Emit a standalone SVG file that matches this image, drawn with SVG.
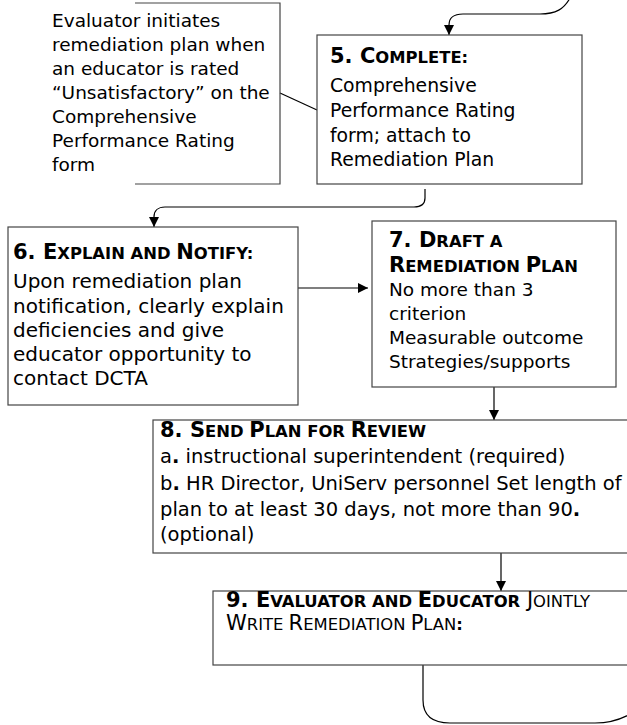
<svg xmlns="http://www.w3.org/2000/svg" width="627" height="725" viewBox="0 0 627 725">
<style>
.box{fill:#fff;stroke:#444;stroke-width:1.2}
.t{font-family:"DejaVu Sans",Verdana,sans-serif;font-size:18.5px;fill:#000}
.b{font-family:"DejaVu Sans",Verdana,sans-serif;font-weight:bold;font-size:21px;fill:#000}
.r{font-family:"DejaVu Sans",Verdana,sans-serif;font-size:21px;fill:#000}
.sc{font-size:16.4px}
.c{fill:none;stroke:#000;stroke-width:1.2}
</style>
<defs>
<marker id="ah" viewBox="0 0 10 10" refX="10" refY="5" markerWidth="10" markerHeight="10" markerUnits="userSpaceOnUse" orient="auto">
<path d="M0,0 L10,5 L0,10 z" fill="#000"/>
</marker>
</defs>
<g id="connectors">
<path class="c" d="M570,-2 C564,9 556,14 540,14 H463 C453,14 449,18 449,25 V35" marker-end="url(#ah)"/>
<path class="c" d="M280,93 L317,110"/>
<path class="c" d="M425,189 V198 C425,204 421,207 414,207 H165 C158,207 154,211 154,217 V227" marker-end="url(#ah)"/>
<path class="c" d="M298,288 H368" marker-end="url(#ah)"/>
<path class="c" d="M494,387 V420" marker-end="url(#ah)"/>
<path class="c" d="M501,553 V591" marker-end="url(#ah)"/>
<path class="c" d="M423,665 V700 C423,716 432,723 450,723 H595 C612,723 622,719 632,713"/>
</g>
<g id="note">
<path class="c" style="stroke:#444" d="M135,3 H280 V184 H135"/>
<text class="t" x="52" y="27">Evaluator initiates</text>
<text class="t" x="52" y="51">remediation plan when</text>
<text class="t" x="52" y="75">an educator is rated</text>
<text class="t" x="52" y="99">“Unsatisfactory” on the</text>
<text class="t" x="52" y="123">Comprehensive</text>
<text class="t" x="52" y="147">Performance Rating</text>
<text class="t" x="52" y="171">form</text>
</g>
<g id="step5">
<rect class="box" x="317" y="35" width="265" height="149"/>
<text class="b" x="330" y="63">5. C<tspan class="sc">OMPLETE:</tspan></text>
<text class="t" x="330" y="92" style="font-size:18.8px">Comprehensive</text>
<text class="t" x="330" y="117" style="font-size:18.8px">Performance Rating</text>
<text class="t" x="330" y="142" style="font-size:18.8px">form; attach to</text>
<text class="t" x="330" y="166" style="font-size:18.8px">Remediation Plan</text>
</g>
<g id="step6">
<rect class="box" x="8" y="227" width="290" height="178"/>
<text class="b" x="13" y="259">6. E<tspan class="sc">XPLAIN AND </tspan>N<tspan class="sc">OTIFY:</tspan></text>
<text class="t" x="13" y="288" style="font-size:20px">Upon remediation plan</text>
<text class="t" x="13" y="313" style="font-size:20px">notification, clearly explain</text>
<text class="t" x="13" y="337" style="font-size:20px">deficiencies and give</text>
<text class="t" x="13" y="361" style="font-size:20px">educator opportunity to</text>
<text class="t" x="13" y="385" style="font-size:20px">contact DCTA</text>
</g>
<g id="step7">
<rect class="box" x="372" y="221" width="244" height="166"/>
<text class="b" x="389" y="247">7. D<tspan class="sc">RAFT A</tspan></text>
<text class="b" x="389" y="272">R<tspan class="sc">EMEDIATION </tspan>P<tspan class="sc">LAN</tspan></text>
<text class="t" x="389" y="296">No more than 3</text>
<text class="t" x="389" y="320">criterion</text>
<text class="t" x="389" y="344">Measurable outcome</text>
<text class="t" x="389" y="368">Strategies/supports</text>
</g>
<g id="step8">
<rect class="box" x="153" y="420" width="490" height="133"/>
<text class="b" x="160" y="437">8. S<tspan class="sc">END </tspan>P<tspan class="sc">LAN FOR </tspan>R<tspan class="sc">EVIEW</tspan></text>
<text class="t" x="160" y="463" style="font-size:19.5px">a<tspan font-weight="bold">.</tspan> instructional superintendent (required)</text>
<text class="t" x="160" y="490" style="font-size:19.5px">b<tspan font-weight="bold">.</tspan> HR Director, UniServ personnel Set length of</text>
<text class="t" x="160" y="516" style="font-size:19.5px">plan to at least 30 days, not more than 90<tspan font-weight="bold">.</tspan></text>
<text class="t" x="160" y="541" style="font-size:19.5px">(optional)</text>
</g>
<g id="step9">
<rect class="box" x="213" y="591" width="430" height="74"/>
<text class="b" x="226" y="607">9. E<tspan class="sc">VALUATOR AND </tspan>E<tspan class="sc">DUCATOR</tspan><tspan font-weight="normal"> J<tspan class="sc">OINTLY</tspan></tspan></text>
<text class="r" x="226" y="630">W<tspan class="sc">RITE </tspan>R<tspan class="sc">EMEDIATION </tspan>P<tspan class="sc">LAN</tspan><tspan font-weight="bold" class="sc">:</tspan></text>
</g>
</svg>
